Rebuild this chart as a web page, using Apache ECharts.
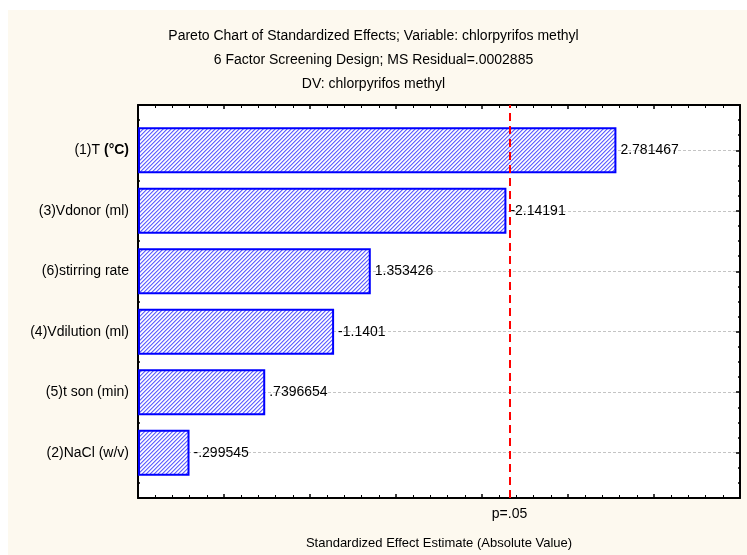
<!DOCTYPE html>
<html>
<head>
<meta charset="utf-8">
<script src="https://cdn.jsdelivr.net/npm/echarts@6/dist/echarts.min.js"></script>
<style>
  html, body { margin: 0; padding: 0; background: #ffffff; }
  #chart { width: 747px; height: 555px; }
</style>
</head>
<body>
<div id="chart"></div>
<script>
// ---- data ----
const titleLines = [
  'Pareto Chart of Standardized Effects; Variable: chlorpyrifos methyl',
  '6 Factor Screening Design; MS Residual=.0002885',
  'DV: chlorpyrifos methyl'
];
const categories = ['(1)T (°C)', '(3)Vdonor (ml)', '(6)stirring rate', '(4)Vdilution (ml)', '(5)t son (min)', '(2)NaCl (w/v)'];
const effects = [2.781467, -2.14191, 1.353426, -1.1401, 0.7396654, -0.299545];
const effectLabels = ['2.781467', '-2.14191', '1.353426', '-1.1401', '.7396654', '-.299545'];
const pCritical = 2.16;
const pLabel = 'p=.05';
const xAxisName = 'Standardized Effect Estimate (Absolute Value)';
const xMin = 0, xMax = 3.5;

// ---- hatch pattern ----
function makeHatch() {
  const c = document.createElement('canvas');
  c.width = 4; c.height = 4;
  const ctx = c.getContext('2d');
  ctx.fillStyle = '#ffffff';
  ctx.fillRect(0, 0, 4, 4);
  for (let y = 0; y < 4; y++) {
    for (let x = 0; x < 4; x++) {
      const k = (x + y) % 4;
      if (k === 3) { ctx.fillStyle = '#6464ff'; ctx.fillRect(x, y, 1, 1); }
      else if (k === 0) { ctx.fillStyle = '#b4b4ff'; ctx.fillRect(x, y, 1, 1); }
      else if (k === 2) { ctx.fillStyle = '#e4e4ff'; ctx.fillRect(x, y, 1, 1); }
    }
  }
  return c;
}
const hatch = makeHatch();

const FONT = 'Liberation Sans, Arial, sans-serif';
const FS = 14;
const chart = echarts.init(document.getElementById('chart'), null, { renderer: 'canvas' });

const frameAxisLine = { show: true, onZero: false, lineStyle: { color: '#000', width: 2 } };

const option = {
  backgroundColor: '#ffffff',
  animation: false,
  graphic: [{
    type: 'rect', left: 8, top: 10, z: -10,
    shape: { width: 739, height: 545 },
    style: { fill: '#fdf9ef' }
  }],
  title: {
    text: titleLines.join('\n'),
    left: 'center',
    top: 24,
    padding: [0, 0, 0, 22],
    textStyle: { fontFamily: FONT, fontSize: FS, fontWeight: 'normal', color: '#000', lineHeight: 24 }
  },
  grid: [
    { left: 138, right: 7, top: 105, bottom: 57, show: true, backgroundColor: '#ffffff', borderWidth: 0 },
    { left: 138, right: 7, top: 150.3, bottom: 102.3, show: false }
  ],
  xAxis: [
    {
      gridIndex: 0, type: 'value', position: 'bottom', min: xMin, max: xMax, interval: 0.5,
      axisLine: frameAxisLine,
      axisTick: { show: true, inside: true, length: 4, lineStyle: { color: '#000', width: 1.5 } },
      minorTick: { show: true, splitNumber: 5, length: 3, lineStyle: { color: '#000', width: 1 } },
      axisLabel: { show: false }, splitLine: { show: false },
      name: xAxisName, nameLocation: 'middle', nameGap: 39,
      nameTextStyle: { fontFamily: FONT, fontSize: 13, color: '#000' }
    },
    {
      gridIndex: 0, type: 'value', position: 'top', min: xMin, max: xMax, interval: 0.5,
      axisLine: frameAxisLine,
      axisTick: { show: true, inside: true, length: 4, lineStyle: { color: '#000', width: 1.5 } },
      minorTick: { show: true, splitNumber: 5, length: 3, lineStyle: { color: '#000', width: 1 } },
      axisLabel: { show: false }, splitLine: { show: false }
    },
    {
      gridIndex: 1, type: 'value', min: xMin, max: xMax, show: false
    }
  ],
  yAxis: [
    {
      gridIndex: 0, type: 'value', position: 'left', min: -0.75, max: 5.75, interval: 0.25,
      axisLine: frameAxisLine,
      axisTick: { show: true, inside: true, length: 2, lineStyle: { color: '#000', width: 1.5 } },
      axisLabel: { show: false }, splitLine: { show: false }
    },
    {
      gridIndex: 0, type: 'value', position: 'right', min: -0.75, max: 5.75, interval: 0.25,
      axisLine: frameAxisLine,
      axisTick: { show: true, inside: true, length: 2, lineStyle: { color: '#000', width: 1.5 } },
      axisLabel: { show: false }, splitLine: { show: false }
    },
    {
      gridIndex: 1, type: 'category', position: 'left', data: categories, inverse: true, boundaryGap: false,
      axisLine: { show: false },
      axisTick: { show: true, inside: true, length: 4, lineStyle: { color: '#000', width: 1.5 } },
      axisLabel: {
        margin: 9, fontFamily: FONT, fontSize: FS, color: '#000',
        formatter: function (v) {
          if (v.indexOf('(°C)') >= 0) {
            return '{n|' + v.replace('(°C)', '') + '}{b|(°C)}';
          }
          return '{n|' + v + '}';
        },
        rich: {
          n: { fontFamily: FONT, fontSize: FS, color: '#000' },
          b: { fontFamily: FONT, fontSize: FS, color: '#000', fontWeight: 'bold' }
        }
      },
      splitLine: { show: true, lineStyle: { color: '#c4c4c4', type: [3, 2], width: 1 } }
    },
    {
      gridIndex: 1, type: 'category', position: 'right', data: categories, inverse: true, boundaryGap: false,
      axisLine: { show: false },
      axisTick: { show: true, inside: true, length: 4, lineStyle: { color: '#000', width: 1.5 } },
      axisLabel: { show: false }, splitLine: { show: false }
    }
  ],
  series: [
    {
      type: 'bar',
      xAxisIndex: 2, yAxisIndex: 2,
      data: effects.map(function (v) { return Math.abs(v); }),
      barWidth: 46,
      clip: false,
      itemStyle: {
        color: { image: hatch, repeat: 'repeat' },
        borderColor: '#0000ff', borderWidth: 2
      },
      label: {
        show: true, position: 'right', distance: 4,
        fontFamily: FONT, fontSize: FS, color: '#000',
        formatter: function (p) { return effectLabels[p.dataIndex]; }
      },
      z: 3
    },
    {
      type: 'line',
      xAxisIndex: 0, yAxisIndex: 0,
      data: [],
      silent: true,
      markLine: {
        symbol: ['none', 'none'],
        silent: true,
        lineStyle: { color: '#ff0000', type: [8, 5], width: 2 },
        label: {
          show: true, position: 'start', distance: 9, formatter: pLabel,
          fontFamily: FONT, fontSize: FS, color: '#000'
        },
        data: [{ xAxis: pCritical }]
      },
      z: 5
    }
  ]
};
chart.setOption(option);
</script>
</body>
</html>
